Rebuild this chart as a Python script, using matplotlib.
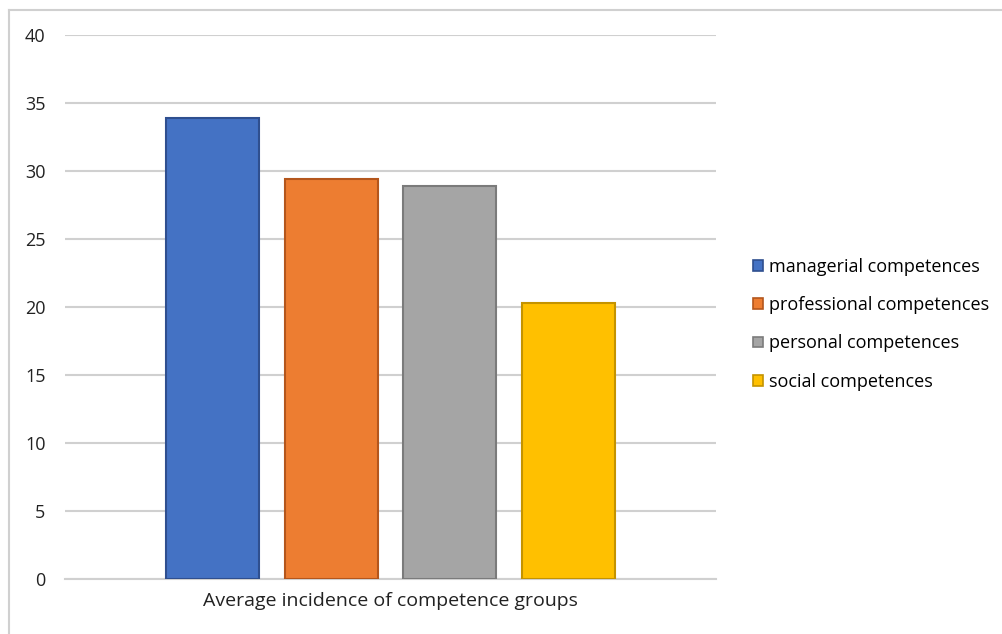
import matplotlib
matplotlib.use("Agg")
import matplotlib.pyplot as plt
from matplotlib.patches import Patch
from matplotlib.lines import Line2D

# Data
groups = ["managerial competences", "professional competences",
          "personal competences", "social competences"]
values = [33.9, 29.4, 28.9, 20.3]
category = "Average incidence of competence groups"
y_ticks = [0, 5, 10, 15, 20, 25, 30, 35, 40]

fills = ["#4472c4", "#ed7d31", "#a5a5a5", "#ffc000"]
edges = ["#2f4f8f", "#b4561c", "#7b7b7b", "#c49300"]

plt.rcParams["font.family"] = ["Open Sans", "DejaVu Sans"]

W, H = 1003, 634
fig = plt.figure(figsize=(W / 100, H / 100), dpi=100)
ax = fig.add_axes([65 / W, (H - 579) / H, (716 - 65) / W, (579 - 35) / H])

n = len(values)
offsets = [i - (n - 1) / 2 for i in range(n)]
for off, v, fc, ec in zip(offsets, values, fills, edges):
    ax.bar(off, v, width=0.785, color=fc, edgecolor=ec, linewidth=1.5, zorder=3)

ax.set_xlim(-2.75, 2.75)
ax.set_ylim(0, 40)
ax.set_yticks(y_ticks)
ax.set_yticklabels([str(t) for t in y_ticks], fontsize=13, color="#222222")
ax.set_xticks([0])
ax.set_xticklabels([category], fontsize=14, color="#222222")
ax.tick_params(axis="y", length=0, pad=14)
ax.tick_params(axis="x", length=0, pad=9)
ax.grid(axis="y", color="#d0d0d0", linewidth=1.5, zorder=0)
for side in ["top", "right", "left"]:
    ax.spines[side].set_visible(False)
ax.spines["bottom"].set_color("#d0d0d0")
ax.spines["bottom"].set_linewidth(1.5)

handles = [Patch(facecolor=fc, edgecolor=ec, linewidth=1.2)
           for fc, ec in zip(fills, edges)]
fig.legend(handles, groups, loc="upper left",
           bbox_to_anchor=(753 / W, (H - 258) / H), frameon=False,
           fontsize=13, handlelength=0.55, handleheight=0.55,
           handletextpad=0.35, labelspacing=1.12, borderaxespad=0,
           borderpad=0)

# chart frame
fig.add_artist(Line2D([9 / W, 9 / W], [0, (H - 10) / H],
                      transform=fig.transFigure, color="#d0d0d0", linewidth=1.5))
fig.add_artist(Line2D([9 / W, 1], [(H - 10) / H, (H - 10) / H],
                      transform=fig.transFigure, color="#d0d0d0", linewidth=1.5))

fig.savefig("out.png", dpi=100)
